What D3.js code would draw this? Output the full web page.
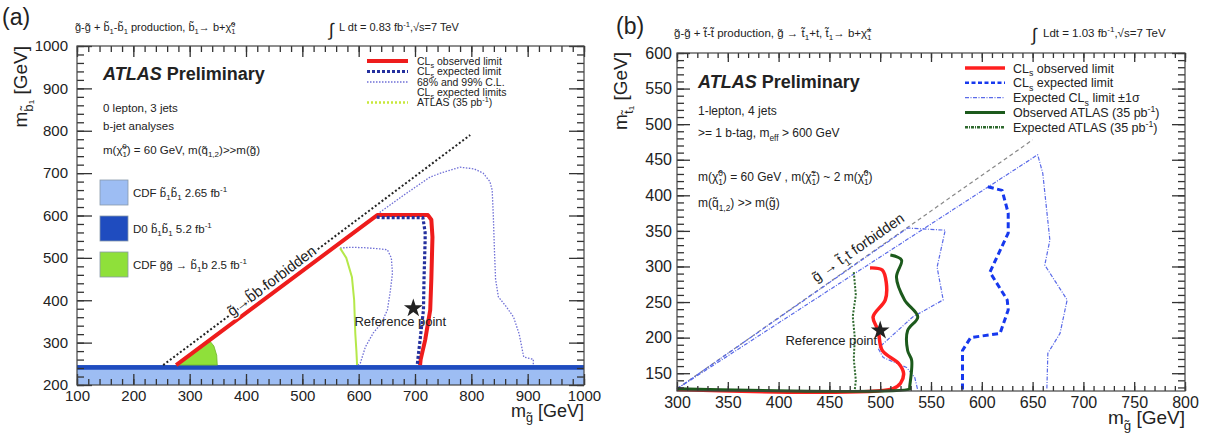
<!DOCTYPE html>
<html>
<head>
<meta charset="utf-8">
<script src="https://cdn.jsdelivr.net/npm/d3@7"></script>
<style>
  body { margin: 0; background: #fff; }
  svg text { font-family: "Liberation Sans", Arial, sans-serif; fill: #222; }
</style>
</head>
<body>
<svg id="chart" width="1218" height="435"></svg>
<script>
// ------------------------------------------------------------
// Two ATLAS exclusion plots side by side.
// (a) sbottom mass vs gluino mass, (b) stop mass vs gluino mass.
// All contour points are [m_gluino, m_squark] in GeV.
// ------------------------------------------------------------

// ---- panel (a) data ----
const aXTicks = d3.range(100, 1001, 100);
const aYTicks = d3.range(200, 1001, 100);
const aObserved = [[276,247],[633,601],[723,601],[729,590],[731,549],[729,450],[727,377],[718,306],[710,260],[709,247]];
const aExpected = [[632,596],[642,595],[714,595],[718,560],[718,542],[716,450],[715,377],[709,306],[705,260],[704,247]];
const aInner = [[567,523],[585,525],[610,524],[640,521],[651,519],[658,500],[660,464],[656,420],[651,377],[640,345],[626,323],[612,290],[603,252],[599,247]];
const aOuter = [[633,603],[680,648],[727,691],[750,702],[780,714],[805,710],[821,700],[833,680],[837,660],[839,600],[841,519],[843,450],[848,408],[862,385],[875,360],[885,320],[893,266],[905,262],[910,261],[910,247]];
const aAtlas35 = [[567,523],[578,500],[588,455],[592,400],[594,322],[596,280],[597,252],[597,247]];
const aKinematic = [[253,247],[798,790]];
const aCdfGG = [[277,247],[335,305],[343,292],[348,270],[349,247]];
const aCdfBand = [200, 247];
const aD0Band = [236, 247];
const aRefPoint = [697, 381];
const aLegendLabels = ["observed limit", "expected limit", "68% and 99% C.L.", "expected limits", "ATLAS (35 pb"];
const aBoxLabels = ["CDF", "D0", "CDF"];

// ---- panel (b) data ----
const bXTicks = d3.range(300, 801, 50);
const bYTicks = d3.range(150, 601, 50);
const bKinematic = [[300,128],[650,478]];
const bOuter = [[300,128],[655,457],[660,431],[667,337],[662,302],[684,253],[677,206],[665,178],[664,126]];
const bInner = [[300,128],[527,354],[564,351],[556,299],[562,253],[532,229],[498,185],[503,172],[526,158],[534,144],[537,126]];
const bExpected = [[606,412],[620,407],[626,375],[626,347],[608,292],[625,253],[626,239],[618,206],[589,200],[581,182],[581,126]];
const bObserved = [[490,298],[502,295],[506,277],[505,253],[493,229],[498,210],[502,182],[518,164],[523,150],[520,136],[512,128],[300,127]];
const bAtlasObs = [[510,316],[521,309],[516,285],[524,253],[537,229],[527,210],[527,182],[531,168],[529,130],[529,128],[300,128]];
const bAtlasExp = [[474,292],[476,260],[473,230],[475,200],[474,170],[476,140],[475,127]];
const bRefPoint = [500, 210];
const bLegendLabels = ["observed limit", "expected limit", "Expected CL", "Observed ATLAS (35 pb", "Expected ATLAS (35 pb"];

const svg = d3.select("#chart");

// small helper: text made of plain, subscript and superscript pieces
const sub = t => ({ t: t, m: "sub" });
const sup = t => ({ t: t, m: "sup" });
function rich(sel, parts, size) {
  let shift = 0;
  parts.forEach(p => {
    const seg = typeof p === "string" ? { t: p } : p;
    const target = seg.m === "sub" ? 0.3 * size : seg.m === "sup" ? -0.4 * size : 0;
    const ts = sel.append("tspan").attr("dy", target - shift).text(seg.t);
    if (seg.m) ts.attr("font-size", size * 0.7);
    if (seg.dx) ts.attr("dx", seg.dx * size);
    shift = target;
  });
  return sel;
}
function addText(g, x, y, parts, size, extra) {
  const t = g.append("text").attr("x", x).attr("y", y).attr("font-size", size);
  if (extra) extra(t);
  return rich(t, parts, size);
}

// frame with inward ROOT-style ticks on all four sides
function drawAxes(g, x, y, o) {
  const [xl, xr] = x.range();
  const [yB, yT] = y.range();
  const clean = s => {
    s.select(".domain").remove();
    s.selectAll(".tick line").attr("stroke", "#333").attr("stroke-width", 1.3);
    s.attr("font-family", null).attr("font-size", null);
  };
  const fmt = d3.format("d");
  // minor ticks
  g.append("g").attr("transform", `translate(0,${yB})`).call(d3.axisBottom(x).tickValues(o.xMinor).tickSize(-o.xMin).tickFormat("")).call(clean);
  g.append("g").attr("transform", `translate(0,${yT})`).call(d3.axisTop(x).tickValues(o.xMinor).tickSize(-o.xMin).tickFormat("")).call(clean);
  g.append("g").attr("transform", `translate(${xl},0)`).call(d3.axisLeft(y).tickValues(o.yMinor).tickSize(-o.yMin).tickFormat("")).call(clean);
  g.append("g").attr("transform", `translate(${xr},0)`).call(d3.axisRight(y).tickValues(o.yMinor).tickSize(-o.yMin).tickFormat("")).call(clean);
  // major ticks with labels
  const bx = g.append("g").attr("transform", `translate(0,${yB})`)
    .call(d3.axisBottom(x).tickValues(o.xMajor).tickSize(-o.xMaj).tickPadding(o.xPad).tickFormat(fmt)).call(clean);
  bx.selectAll("text").attr("font-size", o.labelSize).attr("fill", "#333");
  g.append("g").attr("transform", `translate(0,${yT})`).call(d3.axisTop(x).tickValues(o.xMajor).tickSize(-o.xMaj).tickFormat("")).call(clean);
  const ly = g.append("g").attr("transform", `translate(${xl},0)`)
    .call(d3.axisLeft(y).tickValues(o.yMajor).tickSize(-o.yMaj).tickPadding(o.yPad).tickFormat(fmt)).call(clean);
  ly.selectAll("text").attr("font-size", o.labelSize).attr("fill", "#333");
  g.append("g").attr("transform", `translate(${xr},0)`).call(d3.axisRight(y).tickValues(o.yMajor).tickSize(-o.yMaj).tickFormat("")).call(clean);
  g.append("rect").attr("x", xl).attr("y", yT).attr("width", xr - xl).attr("height", yB - yT)
    .attr("fill", "none").attr("stroke", "#444").attr("stroke-width", 1.2);
}

function path(g, x, y, pts, stroke, width, dash, curve) {
  const line = d3.line().x(d => x(d[0])).y(d => y(d[1])).curve(curve || d3.curveLinear);
  const p = g.append("path").attr("d", line(pts)).attr("fill", "none")
    .attr("stroke", stroke).attr("stroke-width", width).attr("stroke-linejoin", "round");
  if (dash) p.attr("stroke-dasharray", dash);
  return p;
}

function star(g, x, y, pt, size) {
  g.append("path").attr("d", d3.symbol(d3.symbolStar, size)())
    .attr("transform", `translate(${x(pt[0])},${y(pt[1])})`).attr("fill", "#222");
}

function atlasLabel(g, xp, yp) {
  const t = g.append("text").attr("x", xp).attr("y", yp).attr("font-size", 18).attr("font-weight", "bold").attr("fill", "#111");
  t.append("tspan").attr("font-style", "italic").text("ATLAS");
  t.append("tspan").text(" Preliminary");
}

// ============================================================
// PANEL (a)
// ============================================================
const xa = d3.scaleLinear().domain([100, 1000]).range([77, 584]);
const ya = d3.scaleLinear().domain([200, 1000]).range([385, 46]);
const ga = svg.append("g");

// Tevatron sbottom exclusion bands across the whole gluino range
ga.append("rect").attr("x", xa(100)).attr("width", xa(1000) - xa(100))
  .attr("y", ya(aCdfBand[1])).attr("height", ya(aCdfBand[0]) - ya(aCdfBand[1])).attr("fill", "#9dbdf3");
ga.append("rect").attr("x", xa(100)).attr("width", xa(1000) - xa(100))
  .attr("y", ya(aD0Band[1])).attr("height", ya(aD0Band[0]) - ya(aD0Band[1])).attr("fill", "#1f4cbf");
// CDF gluino region
ga.append("path").attr("d", d3.line().x(d => xa(d[0])).y(d => ya(d[1]))(aCdfGG) + "Z")
  .attr("fill", "#8fe03a").attr("stroke", "#6fb52a").attr("stroke-width", 0.8);

path(ga, xa, ya, aKinematic, "#222", 2, "2,2.2");
path(ga, xa, ya, aOuter, "#6f6fd6", 1.3, "1.5,1.5");
path(ga, xa, ya, aInner, "#6f6fd6", 1.3, "1.5,1.5");
path(ga, xa, ya, aAtlas35, "#b5e84a", 2);
path(ga, xa, ya, aObserved, "#ee1c1c", 4);
path(ga, xa, ya, aExpected, "#24309e", 3.2, "3,2");
star(ga, xa, ya, aRefPoint, 110);
ga.append("text").attr("x", xa(aRefPoint[0]) - 13).attr("y", ya(aRefPoint[1]) + 18)
  .attr("text-anchor", "middle").attr("font-size", 13).attr("fill", "#555").text("Reference point");

// forbidden-region label along the kinematic line
{
  const p0 = aKinematic[0], p1 = aKinematic[1];
  const ang = Math.atan2(ya(p1[1]) - ya(p0[1]), xa(p1[0]) - xa(p0[0])) * 180 / Math.PI;
  const gx = 372, gy = gx - (p0[0] - p0[1]);
  const t = ga.append("text").attr("transform", `translate(${xa(gx)},${ya(gy)}) rotate(${ang})`)
    .attr("y", 3).attr("font-size", 15).attr("fill", "#333")
    .attr("stroke", "#fff").attr("stroke-width", 3).attr("paint-order", "stroke");
  rich(t, ["g\u0303\u2192b\u0303b forbidden"], 15);
}

drawAxes(ga, xa, ya, {
  xMajor: aXTicks, xMinor: d3.range(100, 1001, 20), yMajor: aYTicks, yMinor: d3.range(200, 1001, 20),
  xMaj: 11, xMin: 6, yMaj: 15, yMin: 7, xPad: 5, yPad: 9, labelSize: 15
});

// axis titles
addText(ga, 584, 417, ["m", sub("g\u0303"), " [GeV]"], 18, t => t.attr("text-anchor", "end").attr("fill", "#333"));
addText(ga, 0, 0, ["m", sub("b\u0303\u2081"), " [GeV]"], 19,
  t => t.attr("transform", "translate(27,46) rotate(-90)").attr("text-anchor", "end").attr("fill", "#333"));

// header
addText(ga, 75, 31, ["g\u0303-g\u0303 + b\u0303", sub("1"), "-b\u0303", sub("1"), " production, b\u0303", sub("1"), "\u2192 b+\u03c7\u0303", sub("1"), { t: "0", m: "sup", dx: -0.4 }], 11);
ga.append("text").attr("x", 329).attr("y", 36).attr("font-size", 18).text("\u222b");
addText(ga, 339, 31, ["L dt = 0.83 fb", sup("-1"), ",\u221as=7 TeV"], 11);
ga.append("text").attr("x", 2).attr("y", 25).attr("font-size", 23).attr("font-family", "'Open Sans', sans-serif").attr("fill", "#111").text("(a)");

// annotations
atlasLabel(ga, 103, 80);
addText(ga, 103, 112, ["0 lepton, 3 jets"], 11.5);
addText(ga, 103, 130, ["b-jet analyses"], 11.5);
addText(ga, 103, 154, ["m(\u03c7\u0303", sub("1"), { t: "0", m: "sup", dx: -0.4 }, ") = 60 GeV, m(q\u0303", sub("1,2"), ")>>m(g\u0303)"], 11.5);

const aBoxes = [
  { fill: "#9dbdf3", parts: [aBoxLabels[0] + " b\u0303", sub("1"), "b\u0303", sub("1"), " 2.65 fb", sup("-1")] },
  { fill: "#1f4cbf", parts: [aBoxLabels[1] + " b\u0303", sub("1"), "b\u0303", sub("1"), " 5.2 fb", sup("-1")] },
  { fill: "#8fe03a", parts: [aBoxLabels[2] + " g\u0303g\u0303 \u2192 b\u0303", sub("1"), "b 2.5 fb", sup("-1")] }
];
aBoxes.forEach((b, i) => {
  const top = 180 + i * 36;
  ga.append("rect").attr("x", 100).attr("y", top).attr("width", 28).attr("height", 25)
    .attr("fill", b.fill).attr("stroke", "#8899aa").attr("stroke-width", 0.8);
  addText(ga, 133, top + 17, b.parts, 11.5);
});

// legend (rows sit close together, as in the original)
const aLeg = [
  { stroke: "#ee1c1c", w: 4, dash: null, parts: ["CL", sub("s"), " " + aLegendLabels[0]], y: 61 },
  { stroke: "#24309e", w: 3, dash: "3,2", parts: ["CL", sub("s"), " " + aLegendLabels[1]], y: 71.5 },
  { stroke: "#6f6fd6", w: 1.3, dash: "1.5,1.5", parts: [aLegendLabels[2]], y: 82 },
  { stroke: null, parts: ["CL", sub("s"), " " + aLegendLabels[3]], y: 92 },
  { stroke: "#c8e83a", w: 2.5, dash: "2,2", parts: [aLegendLabels[4], sup("-1"), ")"], y: 102.5 }
];
aLeg.forEach(d => {
  if (d.stroke) {
    ga.append("line").attr("x1", 367).attr("x2", 408).attr("y1", d.y).attr("y2", d.y)
      .attr("stroke", d.stroke).attr("stroke-width", d.w).attr("stroke-dasharray", d.dash);
  }
  addText(ga, 417, d.y + 3.5, d.parts, 10.5);
});

// ============================================================
// PANEL (b)
// ============================================================
const xb = d3.scaleLinear().domain([300, 800]).range([677, 1185]);
const yb = d3.scaleLinear().domain([125, 600]).range([391, 53]);
const gb = svg.append("g");

path(gb, xb, yb, bKinematic, "#888", 1.2, "4,3");
path(gb, xb, yb, bOuter, "#5a6ae8", 1.2, "4,1.5,1,1.5");
path(gb, xb, yb, bInner, "#5a6ae8", 1.2, "4,1.5,1,1.5");
path(gb, xb, yb, bExpected, "#1638ee", 3, "6,3.5");
path(gb, xb, yb, bAtlasExp, "#2f6a2f", 2, "2,1.5");
path(gb, xb, yb, bObserved, "#ff1f1f", 3.5, null, d3.curveCatmullRom);
path(gb, xb, yb, bAtlasObs, "#1c5a1c", 3, null, d3.curveCatmullRom);
star(gb, xb, yb, bRefPoint, 110);
gb.append("text").attr("x", xb(bRefPoint[0]) - 3).attr("y", yb(bRefPoint[1]) + 14)
  .attr("text-anchor", "end").attr("font-size", 13).attr("fill", "#444").text("Reference point");

{
  const p0 = bKinematic[0], p1 = bKinematic[1];
  const ang = Math.atan2(yb(p1[1]) - yb(p0[1]), xb(p1[0]) - xb(p0[0])) * 180 / Math.PI;
  const gx = 441, gy = gx - (p0[0] - p0[1]);
  const t = gb.append("text").attr("transform", `translate(${xb(gx)},${yb(gy)}) rotate(${ang})`)
    .attr("y", -7).attr("font-size", 14.5).attr("fill", "#333");
  rich(t, ["g\u0303 \u2192 t\u0303", sub("1"), "t forbidden"], 14.5);
}

drawAxes(gb, xb, yb, {
  xMajor: bXTicks, xMinor: d3.range(300, 801, 10), yMajor: bYTicks, yMinor: d3.range(130, 601, 10),
  xMaj: 9, xMin: 5, yMaj: 13, yMin: 7, xPad: 6, yPad: 5, labelSize: 16
});

addText(gb, 1185, 424, ["m", sub("g\u0303"), " [GeV]"], 19, t => t.attr("text-anchor", "end").attr("fill", "#333"));
addText(gb, 0, 0, ["m", sub("t\u0303\u2081"), " [GeV]"], 19,
  t => t.attr("transform", "translate(627,52) rotate(-90)").attr("text-anchor", "end").attr("fill", "#333"));

addText(gb, 674, 37, ["g\u0303-g\u0303 + t\u0303-t\u0303 production, g\u0303 \u2192 t\u0303", sub("1"), "+t, t\u0303", sub("1"), "\u2192 b+\u03c7\u0303", sub("1"), { t: "\u00b1", m: "sup", dx: -0.4 }], 11.5);
gb.append("text").attr("x", 1032).attr("y", 41).attr("font-size", 18).text("\u222b");
addText(gb, 1043, 37, ["Ldt = 1.03 fb", sup("-1"), ",\u221as=7 TeV"], 11.5);
gb.append("text").attr("x", 616).attr("y", 34).attr("font-size", 23).attr("font-family", "'Open Sans', sans-serif").attr("fill", "#111").text("(b)");

atlasLabel(gb, 698, 88);
addText(gb, 698, 115, ["1-lepton, 4 jets"], 12);
addText(gb, 698, 137, [">= 1 b-tag, m", sub("eff"), " > 600 GeV"], 12);
addText(gb, 698, 181, ["m(\u03c7\u0303", sub("1"), { t: "0", m: "sup", dx: -0.4 }, ") = 60 GeV , m(\u03c7\u0303", sub("1"), { t: "\u00b1", m: "sup", dx: -0.4 }, ") ~ 2 m(\u03c7\u0303", sub("1"), { t: "0", m: "sup", dx: -0.4 }, ")"], 12);
addText(gb, 698, 207, ["m(q\u0303", sub("1,2"), ") >> m(g\u0303)"], 12);

const bLeg = [
  { stroke: "#ff1f1f", w: 3.5, dash: null, parts: ["CL", sub("s"), " " + bLegendLabels[0]] },
  { stroke: "#1638ee", w: 2.5, dash: "4,2.5", parts: ["CL", sub("s"), " " + bLegendLabels[1]] },
  { stroke: "#5a6ae8", w: 1.2, dash: "4,1.5,1,1.5", parts: [bLegendLabels[2], sub("s"), " limit \u00b11\u03c3"] },
  { stroke: "#1c5a1c", w: 3, dash: null, parts: [bLegendLabels[3], sup("-1"), ")"] },
  { stroke: "#2f6a2f", w: 2.5, dash: "3,1,1,1", parts: [bLegendLabels[4], sup("-1"), ")"] }
];
bLeg.forEach((d, i) => {
  const yy = 68 + i * 14.8;
  gb.append("line").attr("x1", 965).attr("x2", 1005).attr("y1", yy).attr("y2", yy)
    .attr("stroke", d.stroke).attr("stroke-width", d.w).attr("stroke-dasharray", d.dash);
  addText(gb, 1013, yy + 4.5, d.parts, 12.5);
});
</script>
</body>
</html>
